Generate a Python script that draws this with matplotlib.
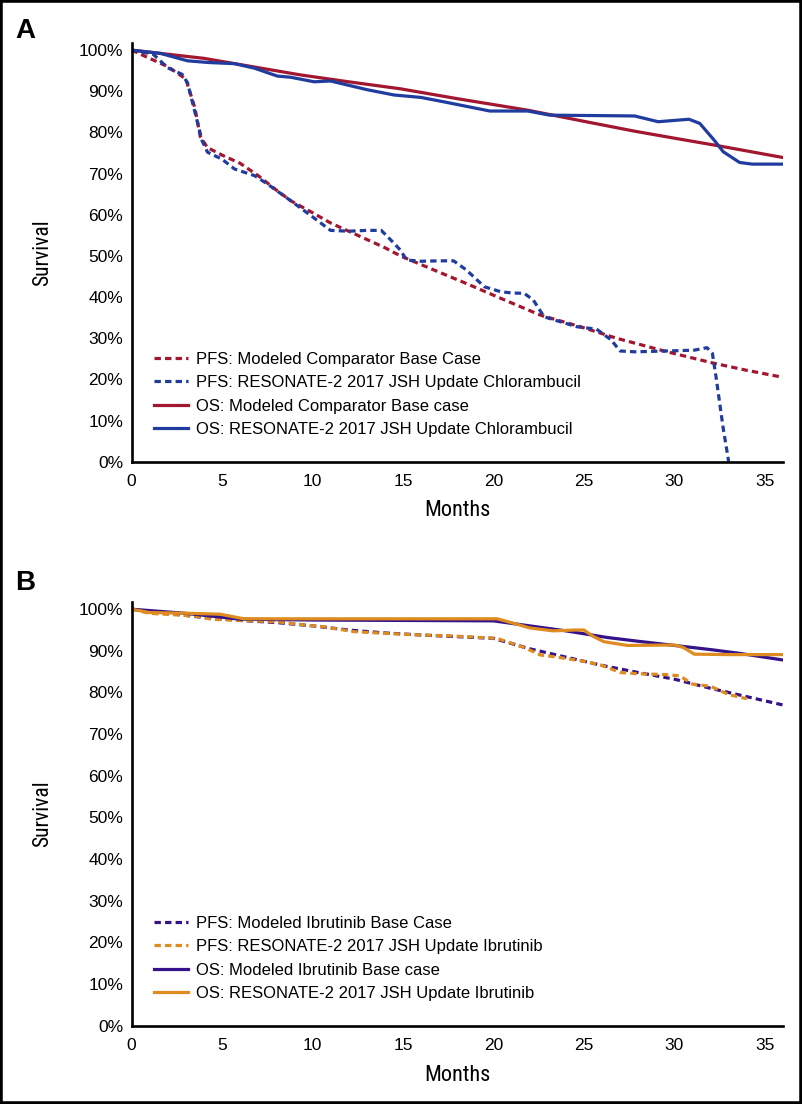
import matplotlib
matplotlib.use("Agg")
import matplotlib.pyplot as plt
from matplotlib.patches import Rectangle
from matplotlib.ticker import FuncFormatter
from matplotlib import font_manager

# ---------------- Panel A data ----------------
a_pfs_model_x = [0, 1, 2, 3, 3.5, 3.8, 4.2, 5, 6, 7, 8, 8.8, 10, 11, 12.3, 14, 14.86, 16.7, 18.5,
                 20.4, 22.6, 24.8, 26.8, 29.6, 32.2, 34, 36]
a_pfs_model_y = [100, 98, 96, 93, 86, 79, 76.3, 74.5, 72.5, 69.5, 66, 63.4, 60.5, 58, 55.4, 52, 50.0, 46.6, 43.3,
                 39.7, 35.6, 32.8, 30.0, 26.7, 23.9, 22.2, 20.5]

a_pfs_trial_x = [0, 1.2, 2.0, 2.8, 3.1, 3.5, 3.9, 4.2, 5, 5.7, 6.8, 7.5, 8.8, 10, 11, 12, 13, 13.8, 14.3,
                 14.86, 15.2, 16, 17, 17.8, 18.5, 19.5, 20.4, 21.0, 21.7, 22.2, 22.8, 23.7, 24.6, 25.7, 26.5,
                 27.0, 27.8, 29.6, 31.1, 31.8, 32.1, 32.3, 32.7, 33.0]
a_pfs_trial_y = [100, 99, 95.7, 94.1, 92, 85, 78, 75.2, 73.5, 71.1, 69.5, 67.5, 63.4, 59.5, 56.2, 56, 56.2, 56.2, 54,
                 51.4, 49.0, 48.7, 48.8, 48.8, 46.6, 42.5, 41.3, 41.0, 40.9, 39.3, 35.2, 34.0, 32.8, 32.2, 29.6,
                 26.9, 26.7, 26.9, 27.1, 27.7, 26.3, 20.6, 8, 0]

a_os_model_x = [0, 4, 9.3, 12, 14.86, 18, 21.9, 25, 27.8, 30, 32.5, 36]
a_os_model_y = [100, 98.0, 94.0, 92.3, 90.6, 88.2, 85.4, 82.7, 80.3, 78.6, 76.7, 73.9]

a_os_trial_x = [0, 1.6, 3.1, 4.2, 5.7, 6.8, 8.05, 8.8, 10.1, 11.0, 13.0, 14.5, 16.0, 17.3, 19.8, 21.9,
                23.1, 27.8, 29.1, 30.8, 31.4, 32.2, 32.7, 33.6, 34.3, 36]
a_os_trial_y = [100, 99.2, 97.4, 97.0, 96.7, 95.6, 93.7, 93.4, 92.3, 92.5, 90.4, 89.1, 88.5, 87.4, 85.2, 85.2,
                84.2, 84.0, 82.6, 83.2, 82.2, 78.1, 75.3, 72.7, 72.3, 72.3]

# ---------------- Panel B data ----------------
b_pfs_model_x = [0, 2, 4, 6, 8, 10, 12, 14, 16, 18, 20, 22, 24, 26, 28, 30, 32, 34, 36]
b_pfs_model_y = [100, 99, 98, 97.3, 96.8, 96, 95, 94.3, 93.8, 93.4, 93, 90.5, 88.5, 86.5, 84.8, 83.2, 81, 79, 77]

b_pfs_trial_x = [0, 1, 3, 3.8, 4.4, 6, 8, 10, 10.6, 12.3, 14, 16, 17.6, 20.2, 21.7, 22.6, 23.5, 25, 26, 27,
                 28, 29.5, 30.3, 31, 32, 33, 34]
b_pfs_trial_y = [100, 99, 98.5, 98.2, 97.6, 97.3, 97, 96, 95.8, 94.6, 94.2, 93.8, 93.6, 93, 90.8, 89, 88.5,
                 87.5, 86.5, 84.8, 84.5, 84.3, 84, 82, 81.5, 79.5, 78.5]

b_os_model_x = [0, 3, 6, 10, 15, 20, 22, 24, 26.3, 28, 30, 32, 33.6, 36]
b_os_model_y = [100, 99, 97.6, 97.4, 97.3, 97.2, 96, 94.8, 93.2, 92.3, 91.3, 90.3, 89.4, 87.8]

b_os_trial_x = [0, 1, 3.3, 4.9, 5.5, 6.2, 10, 15, 20.2, 21.3, 22, 23.3, 24.5, 25, 25.5, 26.1, 27.4, 30,
                30.5, 31.1, 33, 36]
b_os_trial_y = [100, 99.2, 99, 98.8, 98.3, 97.7, 97.7, 97.7, 97.7, 96.4, 95.5, 94.8, 95, 95, 93.5, 92.2, 91.3,
                91.4, 90.8, 89.2, 89.1, 89.1]

labels_a = ["PFS: Modeled Comparator Base Case",
            "PFS: RESONATE-2 2017 JSH Update Chlorambucil",
            "OS: Modeled Comparator Base case",
            "OS: RESONATE-2 2017 JSH Update Chlorambucil"]
labels_b = ["PFS: Modeled Ibrutinib Base Case",
            "PFS: RESONATE-2 2017 JSH Update Ibrutinib",
            "OS: Modeled Ibrutinib Base case",
            "OS: RESONATE-2 2017 JSH Update Ibrutinib"]

x_ticks = [0, 5, 10, 15, 20, 25, 30, 35]
y_ticks = [0, 10, 20, 30, 40, 50, 60, 70, 80, 90, 100]

RED = "#a3162f"
BLUE = "#1f3c9e"
PURPLE = "#35128a"
ORANGE = "#de8c1f"

plt.rcParams['font.family'] = ['Liberation Sans', 'DejaVu Sans']

# pick a condensed face for axis titles, if one is installed
installed = {f.name for f in font_manager.fontManager.ttflist}
cond_family = None
for cand in ['Liberation Sans Narrow', 'Roboto Condensed', 'Open Sans Condensed', 'DejaVu Sans Condensed']:
    if cand in installed:
        cond_family = cand
        break
cond_stretch = 'normal'
if cond_family is None:
    cond_family = 'DejaVu Sans'
    cond_stretch = 'condensed'
    for f in font_manager.fontManager.ttflist:
        if f.stretch in ('condensed', 'semi-condensed', 'extra-condensed') and f.style == 'normal':
            cond_family = f.name
            break
COND = [cond_family, 'DejaVu Sans']

fig = plt.figure(figsize=(8.02, 11.04), dpi=100)
fig.patches.append(Rectangle((0, 0), 1, 1, transform=fig.transFigure, fill=False,
                             lw=4, edgecolor='black', zorder=10))

W, H = 802, 1104
DASH = (0, (2.0, 1.3))
LW = 2.3


def make_axes(top_px, bottom_px):
    left_px, right_px = 131.5, 783
    return fig.add_axes([left_px / W, 1 - bottom_px / H, (right_px - left_px) / W,
                         (bottom_px - top_px) / H])


def style(ax, legend_y, label_y):
    ax.set_xlim(0, 36)
    ax.set_ylim(0, 101.8)
    ax.set_xticks(x_ticks)
    ax.set_yticks(y_ticks)
    ax.yaxis.set_major_formatter(FuncFormatter(lambda v, p: f"{int(v)}%"))
    for s in ['top', 'right']:
        ax.spines[s].set_visible(False)
    for s in ['left', 'bottom']:
        ax.spines[s].set_linewidth(1.9)
    ax.tick_params(axis='both', length=0, labelsize=12.5)
    ax.tick_params(axis='y', pad=6)
    ax.tick_params(axis='x', pad=9)
    ax.set_xlabel("Months", family=COND, fontsize=16, fontstretch=cond_stretch)
    ax.set_ylabel("Survival", family=COND, fontsize=15.5, fontstretch=cond_stretch)
    ax.xaxis.set_label_coords(0.5, label_y)
    ax.yaxis.set_label_coords(-0.12, 0.5)
    ax.legend(loc='upper left', bbox_to_anchor=(0.035, legend_y), frameon=False, fontsize=12,
              handlelength=2.0, handletextpad=0.5, borderpad=0, labelspacing=0.5, borderaxespad=0)


axA = make_axes(42.7, 461.7)
axA.plot(a_pfs_model_x, a_pfs_model_y, color=RED, lw=LW, ls=DASH, label=labels_a[0])
axA.plot(a_pfs_trial_x, a_pfs_trial_y, color=BLUE, lw=LW, ls=DASH, label=labels_a[1])
axA.plot(a_os_model_x, a_os_model_y, color=RED, lw=LW, label=labels_a[2])
axA.plot(a_os_trial_x, a_os_trial_y, color=BLUE, lw=LW, label=labels_a[3])
style(axA, 0.262, -0.092)

axB = make_axes(601.7, 1025.7)
axB.plot(b_pfs_model_x, b_pfs_model_y, color=PURPLE, lw=LW, ls=DASH, label=labels_b[0])
axB.plot(b_pfs_trial_x, b_pfs_trial_y, color=ORANGE, lw=LW, ls=DASH, label=labels_b[1])
axB.plot(b_os_model_x, b_os_model_y, color=PURPLE, lw=LW, label=labels_b[2])
axB.plot(b_os_trial_x, b_os_trial_y, color=ORANGE, lw=LW, label=labels_b[3])
style(axB, 0.259, -0.092)

fig.text(15 / W, 1 - 38 / H, "A", fontsize=20, fontweight='bold', va='baseline')
fig.text(15 / W, 1 - 590 / H, "B", fontsize=20, fontweight='bold', va='baseline')

fig.savefig("out.png", dpi=100)
